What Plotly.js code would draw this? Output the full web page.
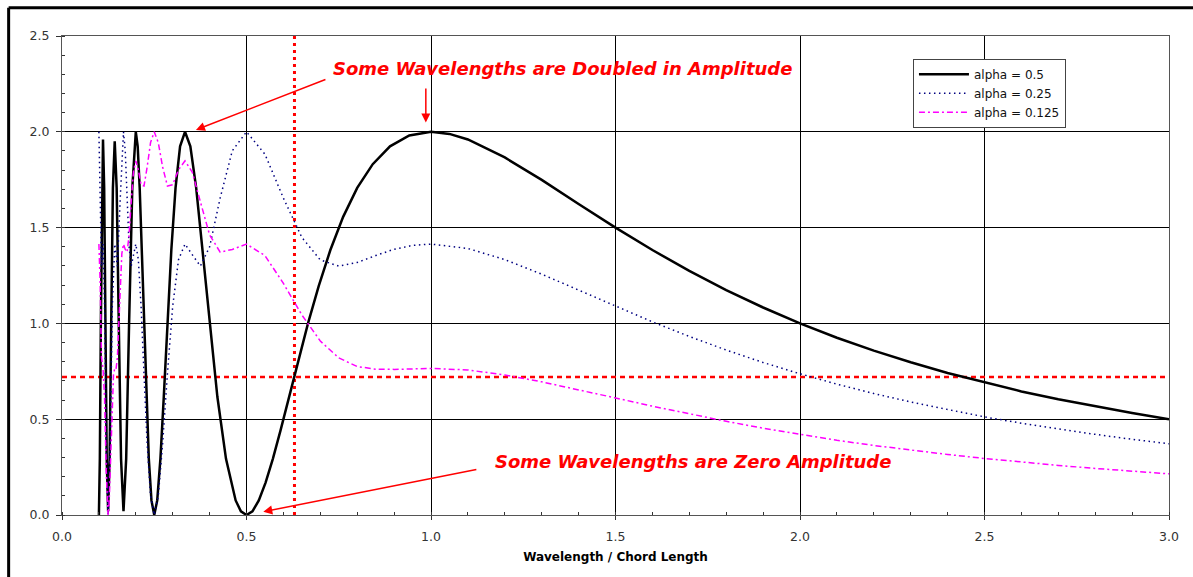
<!DOCTYPE html>
<html>
<head>
<meta charset="utf-8">
<script src="https://cdn.plot.ly/plotly-3.0.1.min.js"></script>
<style>html,body{margin:0;padding:0;background:#fff;}#chart{width:1193px;height:577px;}</style>
</head>
<body>
<div id="chart"></div>
<script>
// ---- data ----
const seriesNames = ['alpha = 0.5', 'alpha = 0.25', 'alpha = 0.125'];

const lambdaA05 = [0.1,0.10256,0.10526,0.10811,0.11111,0.11429,0.11765,0.12121,0.125,0.12903,0.13333,0.13793,0.14286,0.14815,0.15385,0.16,0.16667,0.17391,0.18182,0.19048,0.2,0.20513,0.21053,0.21622,0.22222,0.22857,0.23529,0.24242,0.25,0.25806,0.26667,0.27586,0.28571,0.2963,0.30769,0.32,0.33333,0.34783,0.36364,0.38095,0.4,0.42105,0.44444,0.47059,0.48485,0.5,0.51613,0.53333,0.55172,0.57143,0.59259,0.61538,0.64,0.66667,0.69565,0.72727,0.7619,0.8,0.84211,0.88889,0.94118,1.0,1.05,1.1,1.2,1.3,1.4,1.5,1.6,1.7,1.8,1.9,2.0,2.1,2.2,2.3,2.4,2.5,2.6,2.7,2.8,2.9,3.0];
const ampA05 = [0,0.293,1,1.707,1.96,1.707,1,0.293,0.02,0.293,1,1.707,1.95,1.707,1,0.293,0.02,0.293,1,1.707,2,1.924,1.707,1.383,1,0.617,0.293,0.076,0,0.076,0.293,0.617,1,1.383,1.707,1.924,2,1.924,1.707,1.383,1,0.617,0.293,0.076,0.019,0,0.019,0.076,0.169,0.293,0.444,0.617,0.805,1,1.195,1.383,1.556,1.707,1.831,1.924,1.981,2,1.989,1.96,1.866,1.749,1.623,1.5,1.383,1.274,1.174,1.083,1.0,0.925,0.858,0.797,0.741,0.691,0.645,0.604,0.566,0.532,0.5];

const lambdaA025 = [0.1,0.10345,0.10714,0.11111,0.11538,0.12,0.125,0.13043,0.13636,0.14286,0.15,0.15789,0.16667,0.17143,0.17647,0.18182,0.1875,0.19355,0.2,0.2069,0.21429,0.22222,0.23077,0.24,0.25,0.2609,0.2727,0.2857,0.3,0.3158,0.3333,0.3529,0.375,0.4,0.4286,0.4615,0.5,0.55,0.6,0.65,0.7,0.75,0.8,0.85,0.9,0.95,1.0,1.1,1.2,1.3,1.4,1.5,1.6,1.7,1.8,1.9,2.0,2.1,2.2,2.3,2.4,2.5,2.6,2.7,2.8,2.9,3.0];
const ampA025 = [2.0,1.654,1.299,1.414,1.090,0.372,0,0.372,1.090,1.414,1.299,1.654,2.0,1.901,1.654,1.399,1.299,1.359,1.414,1.333,1.090,0.737,0.372,0.099,0,0.099,0.372,0.737,1.090,1.333,1.414,1.359,1.299,1.399,1.654,1.901,2.0,1.883,1.654,1.449,1.331,1.299,1.318,1.354,1.387,1.407,1.414,1.391,1.333,1.257,1.174,1.090,1.008,0.932,0.861,0.796,0.737,0.683,0.634,0.590,0.549,0.512,0.479,0.449,0.421,0.395,0.372];

const lambdaA0125 = [0.1,0.10345,0.10714,0.11111,0.11538,0.12,0.125,0.12766,0.13043,0.13333,0.13636,0.13953,0.14286,0.14634,0.15,0.15385,0.15789,0.16216,0.16667,0.17143,0.17647,0.18182,0.1875,0.19355,0.2,0.2069,0.21429,0.22222,0.23077,0.24,0.25,0.26087,0.27273,0.28571,0.3,0.31579,0.33333,0.35294,0.375,0.4,0.42857,0.46154,0.5,0.55,0.6,0.65,0.7,0.75,0.8,0.85,0.9,0.95,1.0,1.1,1.2,1.3,1.4,1.5,1.6,1.7,1.8,1.9,2.0,2.1,2.2,2.3,2.4,2.5,2.6,2.7,2.8,2.9,3.0];
const ampA0125 = [1.414,1.209,0.820,0.765,0.611,0.215,0,0.058,0.215,0.420,0.611,0.731,0.765,0.760,0.820,0.994,1.209,1.364,1.414,1.386,1.372,1.462,1.635,1.790,1.848,1.802,1.724,1.717,1.816,1.944,2.0,1.944,1.816,1.717,1.724,1.802,1.848,1.790,1.635,1.462,1.372,1.386,1.414,1.354,1.209,1.044,0.908,0.820,0.775,0.761,0.760,0.764,0.765,0.757,0.731,0.695,0.654,0.611,0.568,0.527,0.489,0.453,0.420,0.390,0.363,0.338,0.316,0.295,0.276,0.259,0.243,0.228,0.215];

const markerWavelength = 0.63;   // red dotted vertical line
const markerAmplitude = 0.72;    // red dotted horizontal line
const xRange = [0, 3];
const yRange = [0, 2.5];

const annText = ['Some Wavelengths are Doubled in Amplitude', 'Some Wavelengths are Zero Amplitude'];

// ---- traces ----
const traces = [
  {x:[markerWavelength, markerWavelength], y:yRange, mode:'lines', showlegend:false, hoverinfo:'skip',
   line:{color:'#FF0000', width:3, dash:'3px,4px'}},
  {x:xRange, y:[markerAmplitude, markerAmplitude], mode:'lines', showlegend:false, hoverinfo:'skip',
   line:{color:'#FF0000', width:2.5, dash:'5px,4px'}},
  {x:lambdaA05, y:ampA05, name:seriesNames[0], mode:'lines', line:{color:'#000000', width:2.5}},
  {x:lambdaA025, y:ampA025, name:seriesNames[1], mode:'lines', line:{color:'#000080', width:1.5, dash:'1.5px,3.5px'}},
  {x:lambdaA0125, y:ampA0125, name:seriesNames[2], mode:'lines', line:{color:'#FF00FF', width:1.5, dash:'6px,3px,2px,3px'}}
];

const FONT = 'DejaVu Sans, Arial, sans-serif';
const redFont = {family:FONT, size:18, color:'#FF0000'};

const layout = {
  width:1193, height:577,
  margin:{l:62, r:24, t:36, b:62, pad:0},
  paper_bgcolor:'#ffffff', plot_bgcolor:'#ffffff',
  font:{family:FONT, color:'#222'},
  showlegend:true,
  xaxis:{
    range:xRange, tick0:0, dtick:0.5, tickformat:'.1f',
    ticks:'outside', ticklen:4, tickcolor:'#333', tickwidth:1,
    showgrid:true, gridcolor:'#000', gridwidth:1,
    showline:true, linecolor:'#555', linewidth:1, mirror:true, zeroline:false,
    tickfont:{family:FONT, size:12.5, color:'#333'}, ticklabelstandoff:6,
    minor:{dtick:0.1, ticks:'inside', ticklen:3, tickcolor:'#333', showgrid:false},
    title:{text:'<b>Wavelength / Chord Length</b>', font:{family:FONT, size:12, color:'#000'}, standoff:9},
    automargin:false, fixedrange:true
  },
  yaxis:{
    range:yRange, tick0:0, dtick:0.5, tickformat:'.1f',
    ticks:'outside', ticklen:5, tickcolor:'#333', tickwidth:1,
    showgrid:true, gridcolor:'#000', gridwidth:1,
    showline:true, linecolor:'#555', linewidth:1, mirror:true, zeroline:false,
    tickfont:{family:FONT, size:12.5, color:'#333'}, ticklabelstandoff:4,
    minor:{dtick:0.1, ticks:'inside', ticklen:3, tickcolor:'#333', showgrid:false},
    automargin:false, fixedrange:true
  },
  legend:{x:0.7687, y:0.9526, xanchor:'left', yanchor:'top', bgcolor:'#ffffff',
          bordercolor:'#444', borderwidth:1, font:{family:FONT, size:12, color:'#111'},
          itemwidth:50, tracegroupgap:0},
  annotations:[
    {x:1.355, y:2.333, xref:'x', yref:'y', text:'<b><i>'+annText[0]+'</i></b>', showarrow:false,
     font:redFont, xanchor:'center', yanchor:'middle'},
    {x:1.711, y:0.278, xref:'x', yref:'y', text:'<b><i>'+annText[1]+'</i></b>', showarrow:false,
     font:redFont, xanchor:'center', yanchor:'middle'},
    {x:0.363, y:2.01, ax:0.718, ay:2.276, xref:'x', yref:'y', axref:'x', ayref:'y', text:'',
     showarrow:true, arrowhead:2, arrowsize:1.2, arrowwidth:1.5, arrowcolor:'#FF0000', standoff:0},
    {x:0.986, y:2.048, ax:0.986, ay:2.234, xref:'x', yref:'y', axref:'x', ayref:'y', text:'',
     showarrow:true, arrowhead:2, arrowsize:1.2, arrowwidth:1.5, arrowcolor:'#FF0000', standoff:0},
    {x:0.5455, y:0.017, ax:1.127, ay:0.2385, xref:'x', yref:'y', axref:'x', ayref:'y', text:'',
     showarrow:true, arrowhead:2, arrowsize:1.2, arrowwidth:1.5, arrowcolor:'#FF0000', standoff:0}
  ],
  shapes:[
    {type:'line', xref:'paper', yref:'paper', x0:-0.0482, x1:1.03, y0:1.0589, y1:1.0589,
     line:{color:'#000', width:3}},
    {type:'line', xref:'paper', yref:'paper', x0:-0.0482, x1:-0.0482, y0:1.0589, y1:-0.14,
     line:{color:'#000', width:3}}
  ]
};

Plotly.newPlot('chart', traces, layout, {staticPlot:true, displayModeBar:false});
</script>
</body>
</html>
